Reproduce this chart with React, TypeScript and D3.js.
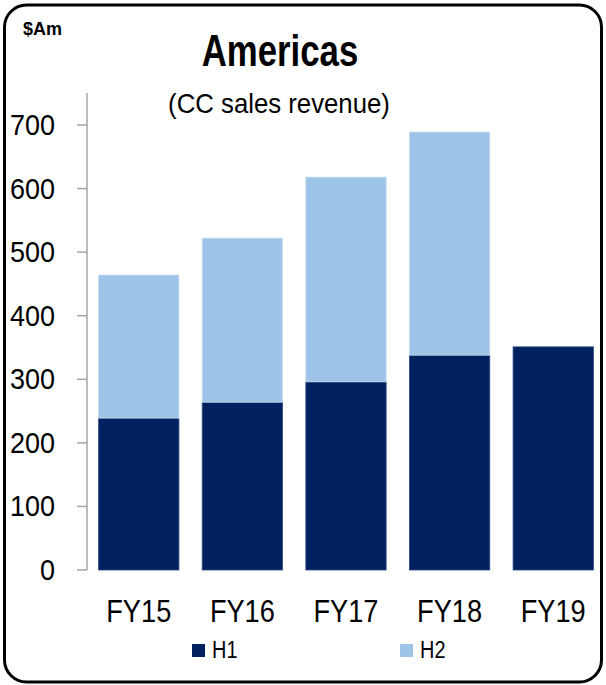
import * as d3 from 'd3';

const categories = ['FY15', 'FY16', 'FY17', 'FY18', 'FY19'];
const h1Values = [239, 264, 296, 338, 351];
const h2Values = [225, 258, 322, 351, 0];
const yTicks = [0, 100, 200, 300, 400, 500, 600, 700];
const seriesNames = ['H1', 'H2'];
const seriesColors = ['#002060', '#9DC3E6'];

const FONT = '"Liberation Sans", Arial, sans-serif';

// narrow-looking text, squeezed horizontally like the original deck
function T(props: { x: number; y: number; size: number; sx?: number; anchor?: string; bold?: boolean; children: any }) {
    const { x, y, size, sx = 1, anchor = 'start', bold = false, children } = props;
    return (
        <text
            transform={`translate(${x},${y}) scale(${sx},1)`}
            textAnchor={anchor}
            fontFamily={FONT}
            fontSize={size}
            fontWeight={bold ? 'bold' : 'normal'}
            fill="#000"
        >
            {children}
        </text>
    );
}

export default function App() {
    const W = 606;
    const H = 685;
    const left = 87;
    const right = 605;
    const top = 125;
    const bottom = 570;

    const x = d3.scaleBand<string>()
        .domain(categories)
        .range([left, right])
        .paddingInner(0.225)
        .paddingOuter(0.112);

    const y = d3.scaleLinear()
        .domain([0, 700])
        .range([bottom, top]);

    const rows = categories.map((c, i) => ({ c, h1: h1Values[i], h2: h2Values[i] }));
    const stacked = d3.stack<any>().keys(['h1', 'h2'])(rows);

    return (
        <svg width={W} height={H} style={{ position: 'absolute', left: 0, top: 0, background: '#fff' }}>
            <rect x={4.5} y={5} width={597} height={677} rx={22} ry={22} fill="#fff" stroke="#000" strokeWidth={3} />

            <T x={23} y={35} size={18} bold>$Am</T>
            <T x={280} y={66} size={44} sx={0.79} anchor="middle" bold>Americas</T>
            <T x={279} y={113} size={28} sx={0.92} anchor="middle">(CC sales revenue)</T>

            {stacked.map((layer, si) => (
                <g key={layer.key}>
                    {layer.map((d, i) => {
                        const h = y(d[0]) - y(d[1]);
                        if (h <= 0) return null;
                        return (
                            <rect
                                key={i}
                                x={x(categories[i])}
                                y={y(d[1])}
                                width={x.bandwidth()}
                                height={h}
                                fill={seriesColors[si]}
                                stroke={si === 0 ? '#2c4a86' : '#c6dcf1'}
                                strokeWidth={0.8}
                            />
                        );
                    })}
                </g>
            ))}

            <line x1={left} x2={left} y1={93} y2={bottom} stroke="#a6a6a6" strokeWidth={1.5} />
            {yTicks.map(t => (
                <g key={t}>
                    <line x1={left - 10} x2={left} y1={y(t)} y2={y(t)} stroke="#a6a6a6" strokeWidth={1.5} />
                    <T x={55} y={y(t) + 10} size={30} sx={0.9} anchor="end">{t}</T>
                </g>
            ))}

            {categories.map(c => (
                <T key={c} x={(x(c) || 0) + x.bandwidth() / 2} y={622} size={32} sx={0.85} anchor="middle">{c}</T>
            ))}

            {seriesNames.map((s, i) => (
                <g key={s}>
                    <rect x={192 + i * 208} y={644} width={13} height={13} fill={seriesColors[i]} />
                    <T x={212 + i * 208} y={658} size={24} sx={0.83}>{s}</T>
                </g>
            ))}
        </svg>
    );
}
